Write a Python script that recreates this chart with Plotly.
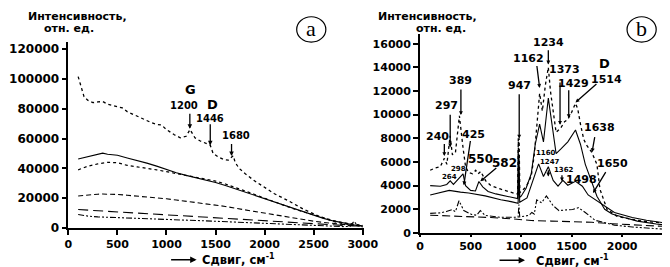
import plotly.graph_objects as go

W, H = 670, 267

# ---------------- Panel (a) data ----------------
a_x_ticks = [0, 500, 1000, 1500, 2000, 2500, 3000]
a_y_ticks = [0, 20000, 40000, 60000, 80000, 100000, 120000]

a1_x = [100, 130, 160, 200, 250, 300, 350, 400, 450, 500, 550, 600, 650, 700, 750, 800, 850, 900, 950, 1000,
        1080, 1140, 1200, 1240, 1290, 1340, 1400, 1446, 1475, 1530, 1580, 1630, 1680, 1700, 1740, 1800, 1900,
        2000, 2100, 2250, 2400, 2550, 2700, 2800, 2900, 3000]
a1_y = [101500, 95000, 88000, 85500, 84000, 84500, 84800, 83000, 82000, 81000, 80500, 78000, 76500, 74500,
        73500, 71500, 70500, 69500, 69000, 66000, 62500, 60500, 61500, 66000, 60500, 58500, 56500, 55500,
        50000, 47500, 46000, 45500, 48500, 44000, 40000, 36500, 31500, 27000, 23000, 18000, 12500, 8000,
        4500, 3000, 2000, 1200]

a_x = [100, 200, 300, 350, 400, 500, 600, 700, 800, 900, 1000, 1100, 1200, 1300, 1400, 1500, 1600, 1700,
       1800, 1900, 2000, 2100, 2200, 2300, 2400, 2500, 2600, 2700, 2800, 2900, 3000]
a2_y = [46300, 48000, 49800, 50200, 49500, 48800, 47000, 45500, 43500, 41500, 39000, 37000, 35300, 33800,
        32000, 30500, 28500, 26300, 23800, 21500, 19300, 17000, 14800, 12600, 10500, 8300, 6500, 4800, 3300,
        2200, 1500]
a3_y = [39000, 41500, 43000, 43500, 44000, 43800, 42000, 41000, 40200, 39000, 37800, 36500, 35500, 34300,
        33000, 31500, 29500, 27300, 25000, 22500, 20000, 17500, 15000, 12800, 10800, 8800, 6900, 5000, 3600,
        2500, 1800]
a4_y = [21500, 22300, 22700, 22800, 22800, 22500, 22000, 21500, 21000, 20300, 19600, 18800, 18000, 17200,
        16300, 15500, 14500, 13300, 12200, 11000, 9800, 8700, 7500, 6500, 5500, 4600, 3800, 3000, 2300,
        1800, 1400]
a5_y = [12400, 12000, 11500, 11300, 11000, 10600, 10200, 9800, 9400, 9000, 8600, 8200, 7800, 7400, 7100,
        6800, 6400, 6000, 5600, 5200, 4800, 4400, 4000, 3600, 3200, 2800, 2500, 2200, 1800, 1500, 1200]
a6_x = [100, 200, 300, 400, 500, 600, 700, 800, 900, 1000, 1100, 1200, 1300, 1400, 1500, 1600, 1700, 1800,
        1900, 2000, 2100, 2200, 2300, 2400, 2500, 2600, 2700, 2800, 2870, 2910, 2950, 3000]
a6_y = [9100, 8000, 7500, 7200, 7000, 6800, 6500, 6200, 6000, 5800, 5600, 5300, 5100, 4800, 4600, 4300,
        4000, 3700, 3400, 3100, 2800, 2500, 2200, 1900, 1600, 1300, 1100, 1000, 1100, 4500, 1500, 800]

# peak labels panel (a)
a_labels = ["G", "1200", "D", "1446", "1680"]
a_label_x = [1248, 1178, 1465, 1446, 1713]
a_label_y = [92600, 82200, 82800, 73700, 62000]
a_arrow_x = [1238, 1446, 1663]
a_arrow_tail_y = [77600, 70500, 57400]
a_arrow_tip_y = [66500, 55400, 48300]

# ---------------- Panel (b) data ----------------
b_x_ticks = [0, 500, 1000, 1500, 2000]
b_y_ticks = [0, 2000, 4000, 6000, 8000, 10000, 12000, 14000, 16000]

b1_x = [100, 150, 200, 240, 265, 297, 320, 350, 389, 410, 425, 450, 480, 520, 550, 575, 600, 650, 700, 800,
        900, 950, 965, 972, 976, 980, 987, 1000, 1050, 1100, 1130, 1160, 1183, 1210, 1240, 1269, 1290, 1317,
        1346, 1394, 1430, 1462, 1500, 1538, 1560, 1587, 1620, 1650, 1700, 1750, 1780, 1850, 1950, 2100,
        2200, 2300, 2400]
b1_y = [5300, 5500, 5600, 6300, 5800, 8200, 6600, 6800, 9900, 8000, 7200, 5600, 5100, 5000, 5300, 5000,
        5200, 4400, 4000, 3700, 3400, 3300, 3300, 8000, 3500, 8000, 3400, 3500, 3900, 4800, 6600, 9500,
        11800, 10300, 12500, 14000, 12000, 10300, 8500, 8900, 9400, 9600, 10200, 10950, 10500, 9200, 7900,
        7400, 6800, 5800, 3700, 2000, 1400, 1150, 1000, 920, 850]

b2_x = [100, 200, 264, 298, 330, 389, 425, 450, 500, 548, 582, 620, 673, 750, 865, 950, 965, 971, 975, 979,
        986, 1000, 1050, 1100, 1140, 1183, 1221, 1269, 1317, 1346, 1394, 1462, 1538, 1587, 1635, 1702, 1750,
        1827, 1900, 2019, 2150, 2337, 2400]
b2_y = [4000, 3950, 4100, 4400, 4100, 4700, 5000, 4000, 3600, 3550, 4350, 3900, 3500, 3300, 3100, 2900,
        2900, 7000, 3200, 6500, 3000, 3100, 3800, 5000, 7500, 9200, 7700, 11400, 8500, 6700, 7100, 7700,
        8700, 7500, 5800, 4200, 3100, 2000, 1600, 1300, 1000, 750, 700]

b3_x = [100, 200, 288, 400, 481, 644, 798, 900, 962, 970, 978, 986, 1058, 1125, 1173, 1221, 1269, 1317,
        1365, 1413, 1462, 1538, 1606, 1663, 1750, 1923, 2100, 2240, 2400]
b3_y = [3200, 3400, 3600, 3450, 3370, 3130, 2800, 2650, 2550, 2500, 5000, 2600, 2960, 4610, 5840, 4770,
        5600, 4440, 3950, 4440, 4030, 4360, 3950, 3210, 2720, 1730, 1300, 1070, 880]

b4_x = [100, 200, 260, 317, 350, 385, 433, 510, 560, 596, 644, 798, 962, 970, 978, 986, 1077, 1106, 1130,
        1154, 1202, 1250, 1317, 1375, 1450, 1510, 1567, 1635, 1731, 1923, 2100, 2400]
b4_y = [1650, 1700, 1810, 1975, 1800, 2720, 1890, 1560, 1500, 1890, 1480, 1320, 1320, 1320, 2400, 1350,
        1480, 1730, 1600, 2800, 2550, 3130, 2300, 1890, 1950, 1975, 2140, 1730, 1070, 660, 500, 330]

b5_x = [100, 300, 500, 700, 900, 1000, 1100, 1300, 1500, 1700, 1900, 2100, 2400]
b5_y = [1500, 1450, 1380, 1300, 1200, 1100, 1050, 1000, 950, 900, 780, 680, 560]

# peak labels panel (b)
b_labels = ["240", "297", "389", "425", "550", "582", "298", "264", "947", "1162", "G", "1234", "1373",
            "1429", "D", "1514", "1638", "1650", "1498", "1362", "1247", "1160"]
b_label_x = [173, 260, 404, 530, 596, 837, 385, 288, 981, 1077, 1269, 1269, 1433, 1519, 1827, 1846, 1779,
             1904, 1595, 1425, 1285, 1250]
b_label_y = [8150, 10800, 12900, 8300, 6250, 5930, 5430, 4690, 12430, 14730, 17200, 16130, 13830, 12590,
             14350, 13000, 8890, 5840, 4550, 5350, 6000, 6750]
b_label_size = [11, 11, 11, 11, 12, 12, 7, 7, 11, 11, 13, 11, 11, 11, 13, 11, 11, 11, 11, 7, 7, 7]
b_arrow_tail_x = [240, 298, 404, 500, 769, 981, 1154, 1269, 1385, 1471, 1760, 1731, 1846, 1404, 1269]
b_arrow_tail_y = [7650, 10120, 12260, 7900, 5600, 11850, 14240, 15560, 12840, 12180, 12700, 8230, 5270,
                  5000, 5430]
b_arrow_tip_x = [240, 298, 404, 433, 596, 981, 1183, 1269, 1385, 1471, 1538, 1702, 1712, 1404, 1269]
b_arrow_tip_y = [6500, 7240, 9960, 4030, 4360, 7980, 12260, 14240, 9140, 9710, 11030, 6830, 3370, 4360,
                 4770]

x_title = "Сдвиг, см<sup>-1</sup>"
y_title_1 = "Интенсивность,"
y_title_2 = "отн. ед."

# ---------------- figure ----------------
FONT = "DejaVu Sans"
fig = go.Figure()


def add(x, y, xa, ya, dash, width=1.1):
    fig.add_trace(go.Scatter(x=x, y=y, xaxis=xa, yaxis=ya, mode="lines",
                             line=dict(color="black", width=width, dash=dash),
                             hoverinfo="skip", showlegend=False))


dashdotdot = "6px,2px,2px,2px,2px,2px"
add(a1_x, a1_y, "x", "y", "dot", 1.3)
add(a_x, a2_y, "x", "y", "solid")
add(a_x, a3_y, "x", "y", "dot", 1.2)
add(a_x, a4_y, "x", "y", "5px,3px")
add(a_x, a5_y, "x", "y", "10px,5px")
add(a6_x, a6_y, "x", "y", dashdotdot)

add(b1_x, b1_y, "x2", "y2", "dot", 1.3)
add(b2_x, b2_y, "x2", "y2", "solid")
add(b3_x, b3_y, "x2", "y2", "solid")
add(b4_x, b4_y, "x2", "y2", dashdotdot)
add(b5_x, b5_y, "x2", "y2", "8px,4px")


def bf(s):
    return dict(family=FONT, size=s, color="black", weight="bold")


common = dict(showline=True, linecolor="black", showgrid=False, zeroline=False, ticks="outside",
              tickcolor="black", tickwidth=1.5)

fig.update_layout(
    width=W, height=H, margin=dict(l=0, r=0, t=0, b=0),
    paper_bgcolor="white", plot_bgcolor="white",
    xaxis=dict(domain=[58 / W, 362 / W], range=[0, 3010], tickvals=a_x_ticks,
               ticktext=[str(v) for v in a_x_ticks], ticklen=5, linewidth=2, anchor="y",
               tickfont=bf(11), **common),
    yaxis=dict(domain=[41 / H, 232 / H], range=[0, 124600], tickvals=a_y_ticks,
               ticktext=[str(v) for v in a_y_ticks], ticklen=5, linewidth=1.5, anchor="x",
               tickfont=bf(12), **common),
    xaxis2=dict(domain=[420 / W, 1.0], range=[0, 2404], tickvals=b_x_ticks,
                ticktext=[str(v) for v in b_x_ticks], ticklen=2, linewidth=2, anchor="y2",
                tickfont=bf(11), **common),
    yaxis2=dict(domain=[36 / H, 240 / H], range=[0, 16790], tickvals=b_y_ticks,
                ticktext=[str(v) for v in b_y_ticks], ticklen=5, linewidth=2, anchor="x2",
                tickfont=bf(11), **common),
)

ann = []
C = dict(xanchor="center", yanchor="middle")

for t, x, y in zip(a_labels, a_label_x, a_label_y):
    ann.append(dict(text=t, x=x, y=y, xref="x", yref="y", showarrow=False,
                    font=bf(13 if t in ("G", "D") else 10), **C))
for x, y0, y1 in zip(a_arrow_x, a_arrow_tail_y, a_arrow_tip_y):
    ann.append(dict(text="", x=x, y=y1, ax=x, ay=y0, xref="x", yref="y", axref="x", ayref="y",
                    showarrow=True, arrowhead=2, arrowsize=0.7, arrowwidth=1.3, arrowcolor="black"))

for t, x, y, s in zip(b_labels, b_label_x, b_label_y, b_label_size):
    ann.append(dict(text=t, x=x, y=y, xref="x2", yref="y2", showarrow=False, font=bf(s), **C))
for x0, y0, x1, y1 in zip(b_arrow_tail_x, b_arrow_tail_y, b_arrow_tip_x, b_arrow_tip_y):
    ann.append(dict(text="", x=x1, y=y1, ax=x0, ay=y0, xref="x2", yref="y2", axref="x2", ayref="y2",
                    showarrow=True, arrowhead=2, arrowsize=0.6, arrowwidth=1.3, arrowcolor="black"))

# axis titles
for (ytx, ytx2, axx, txx, ty) in [(67, 59, 190, 193, 258.5), (428, 442, 528, 537, 259)]:
    ann.append(dict(text=y_title_1, x=ytx / W, y=1 - 8.5 / H, xref="paper", yref="paper",
                    showarrow=False, font=bf(11), **C))
    ann.append(dict(text=y_title_2, x=ytx2 / W, y=1 - 21 / H, xref="paper", yref="paper",
                    showarrow=False, font=bf(11), **C))
    ann.append(dict(text="", x=axx / W, y=1 - ty / H, xref="paper", yref="paper", ax=-27, ay=0,
                    showarrow=True, arrowhead=2, arrowsize=0.8, arrowwidth=1.6, arrowcolor="black"))
    ann.append(dict(text=x_title, x=txx / W, y=1 - ty / H, xref="paper", yref="paper", xanchor="left",
                    yanchor="middle", showarrow=False, font=bf(11.5)))

# panel letters
for (cx, cy, letter) in [(308, 22, "a"), (648, 22, "b")]:
    ann.append(dict(text=letter, x=cx / W, y=1 - (cy - 1) / H, xref="paper", yref="paper",
                    showarrow=False, font=dict(family="Liberation Serif", size=22, color="black"), **C))

shapes = []
for (cx, cy) in [(308, 22), (648, 22)]:
    shapes.append(dict(type="circle", xref="paper", yref="paper", x0=(cx - 15) / W, x1=(cx + 15) / W,
                       y0=1 - (cy + 13) / H, y1=1 - (cy - 13) / H, line=dict(color="black", width=1.2)))

fig.update_layout(annotations=ann, shapes=shapes)
fig.write_html("out.html")
